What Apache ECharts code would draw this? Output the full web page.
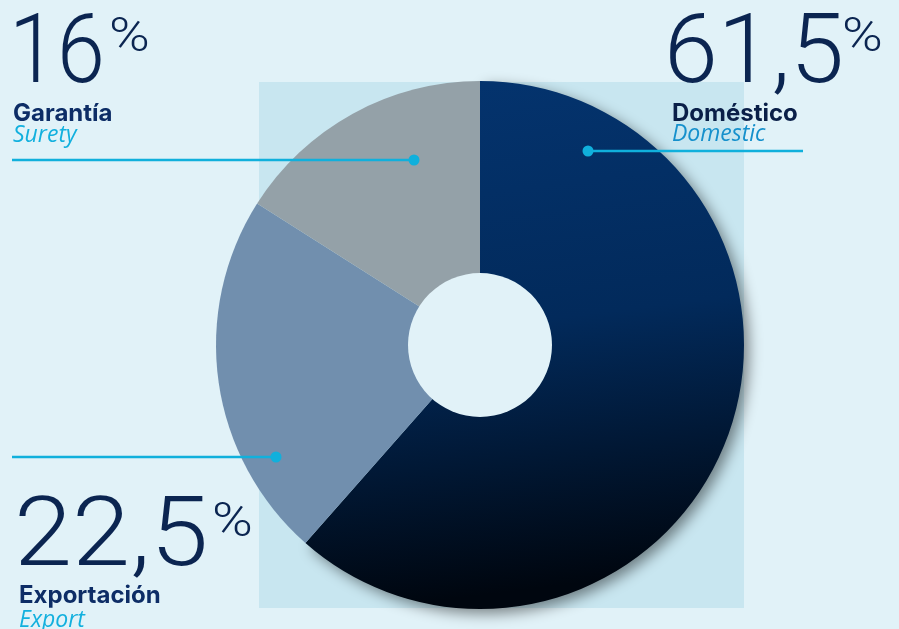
<!DOCTYPE html>
<html>
<head>
<meta charset="utf-8">
<script src="https://cdn.jsdelivr.net/npm/echarts@6/dist/echarts.min.js"></script>
<style>
html,body{margin:0;padding:0;background:#e1f2f8;}
#chart{width:899px;height:629px;}
</style>
</head>
<body>
<div id="chart"></div>
<script>
// ---- data ----
const categories = ['Doméstico', 'Exportación', 'Garantía'];
const categoriesEn = ['Domestic', 'Export', 'Surety'];
const values = [61.5, 22.5, 16];
const valueLabels = ['61,5', '22,5', '16'];

// ---- styles / layout ----
const BG = '#e1f2f8';
const NAVY = '#0b2551';
const CYAN = '#12b0de';
const sliceColors = [
  {type:'linear', x:0, y:0, x2:0.15, y2:1, colorStops:[
    {offset:0, color:'#04346f'}, {offset:0.5, color:'#022a5b'}, {offset:1, color:'#00060f'}]},
  '#718fae',
  '#94a1a8'
];
const labelLayout = [
  {num:[664, 9], sx:1, pct:[842, 15], name:[672, 102], en:[672, 123], dot:[588, 151], lineX:803, bold:'#0a1f48', en_c:'#1590cc'},
  {num:[14, 492], sx:1.08, pct:[212, 500], name:[19, 584], en:[19, 609], dot:[276, 457], lineX:12, bold:'#0d2d66', en_c:CYAN},
  {num:[9, 9], sx:0.89, pct:[109, 15], name:[13, 102], en:[13, 124], dot:[414, 160], lineX:12, bold:'#0d2d66', en_c:CYAN}
];

const chart = echarts.init(document.getElementById('chart'));

const graphics = [
  {type:'rect', z:-10, shape:{x:259, y:82, width:485, height:526}, style:{fill:'#c8e6f0'}}
];
categories.forEach((c, i) => {
  const L = labelLayout[i];
  graphics.push({type:'text', z:5, x:L.num[0], y:L.num[1], scaleX:L.sx, style:{text:valueLabels[i], font:'300 97px Roboto', fill:NAVY, verticalAlign:'top'}});
  graphics.push({type:'text', z:5, x:L.pct[0], y:L.pct[1], scaleX:1.15, style:{text:'%', font:'300 48px Roboto', fill:NAVY, verticalAlign:'top'}});
  graphics.push({type:'text', z:5, x:L.name[0], y:L.name[1], style:{text:c, font:'700 24px Inter', fill:L.bold, verticalAlign:'top'}});
  graphics.push({type:'text', z:5, x:L.en[0], y:L.en[1], style:{text:categoriesEn[i], font:'italic 400 23px "Open Sans"', fill:L.en_c, verticalAlign:'top'}});
  graphics.push({type:'line', z:20, shape:{x1:L.dot[0], y1:L.dot[1], x2:L.lineX, y2:L.dot[1]}, style:{stroke:'#10b0dc', lineWidth:2.5}});
  graphics.push({type:'circle', z:21, shape:{cx:L.dot[0], cy:L.dot[1], r:5.5}, style:{fill:'#10b0dc'}});
});

chart.setOption({
  backgroundColor: BG,
  animation: false,
  graphic: graphics,
  series: [
    {
      type:'pie', z:2, center:[480, 345], radius:[0, 264], startAngle:90, clockwise:true,
      label:{show:false}, labelLine:{show:false}, silent:true,
      data: categories.map((c, i) => ({
        name:c, value:values[i],
        itemStyle: i === 0
          ? {color:sliceColors[i], shadowBlur:14, shadowOffsetX:5, shadowOffsetY:5, shadowColor:'rgba(0,0,0,0.45)'}
          : {color:sliceColors[i]}
      }))
    },
    {
      type:'pie', z:3, center:[480, 345], radius:[0, 72], silent:true,
      label:{show:false}, labelLine:{show:false},
      data:[{value:1, itemStyle:{color:BG}}]
    }
  ]
});
</script>
</body>
</html>
